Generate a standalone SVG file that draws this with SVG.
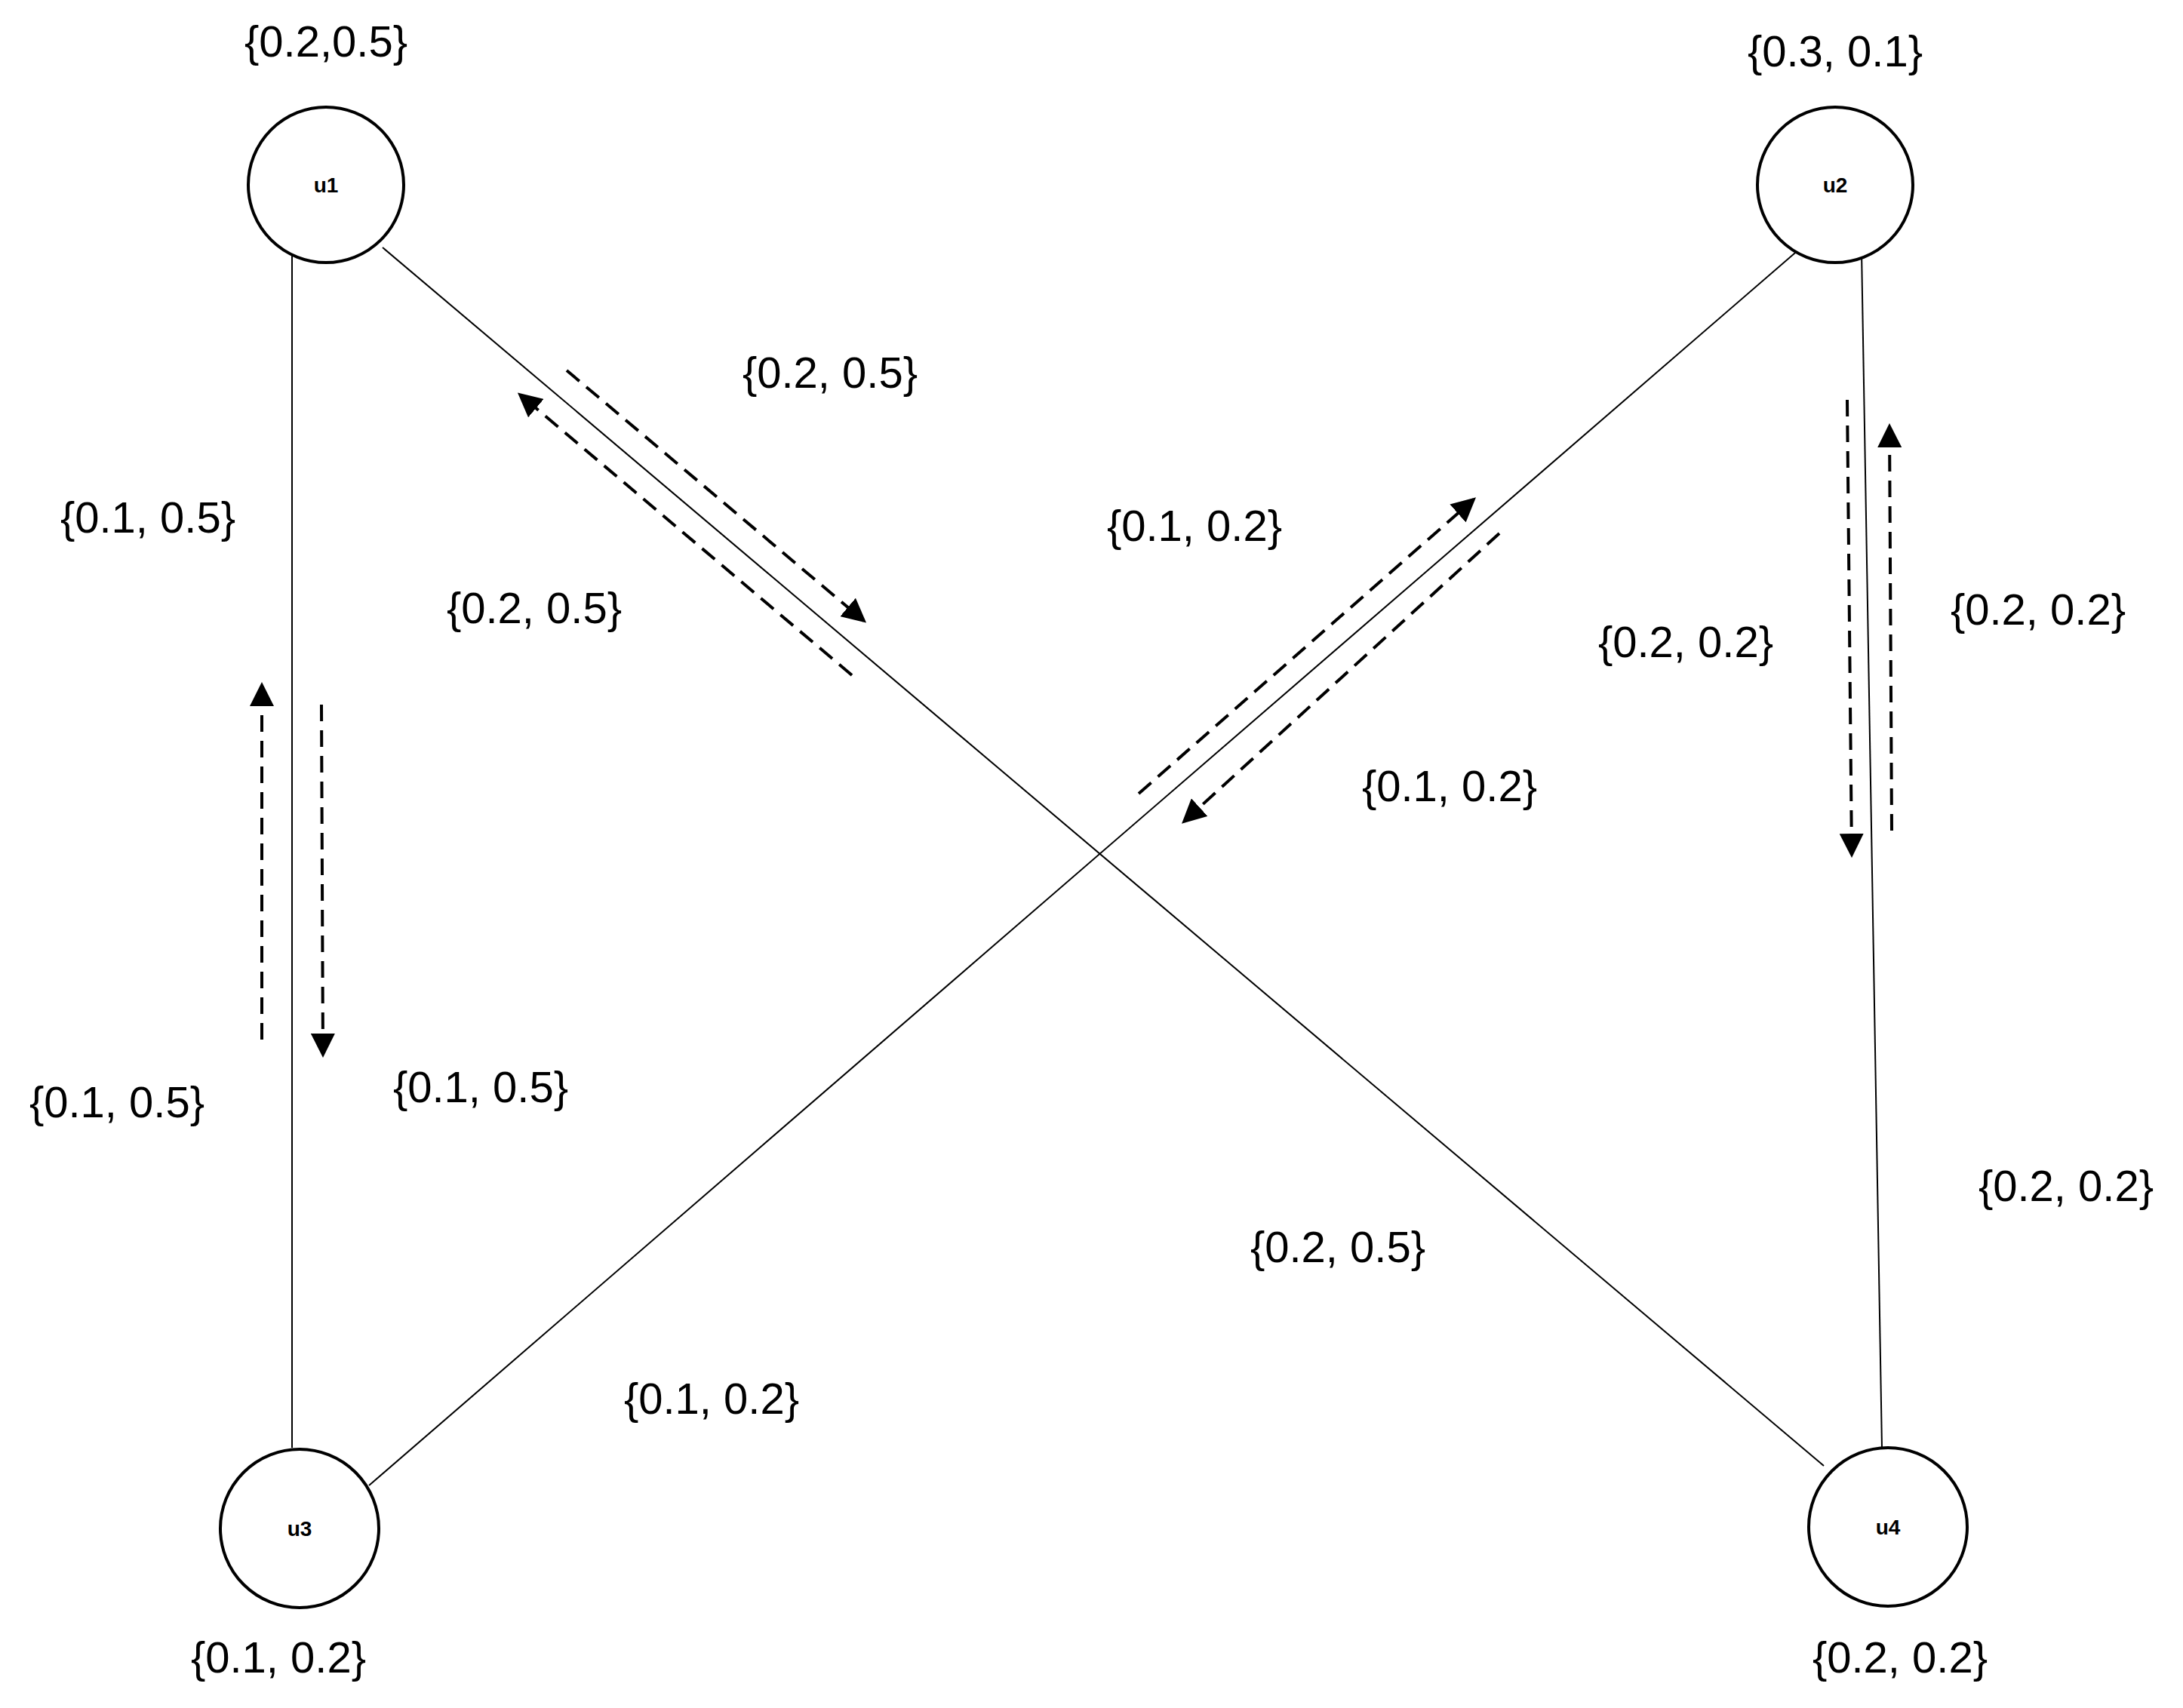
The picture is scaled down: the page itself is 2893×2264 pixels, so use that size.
<svg xmlns="http://www.w3.org/2000/svg" width="2893" height="2264" viewBox="0 0 2893 2264">
<style>
.n{fill:#fff;stroke:#000;stroke-width:4}
.nl{font-family:"Liberation Sans",sans-serif;font-size:28px;font-weight:bold;text-anchor:middle}
.l{font-family:"Liberation Sans",sans-serif;font-size:58px;text-anchor:middle}
.e{stroke:#000;stroke-width:2;fill:none}
.d{stroke:#000;stroke-width:4;stroke-dasharray:22 12;fill:none;marker-end:url(#a)}
</style>
<defs><marker id="a" markerWidth="8" markerHeight="8" refX="7" refY="4" orient="auto" markerUnits="strokeWidth"><path d="M0,0 L8,4 L0,8 Z"/></marker></defs>
<rect width="2893" height="2264" fill="#fff"/>
<g id="connectors">
<line class="e" x1="387" y1="301" x2="387" y2="1919"/>
<line class="e" x1="507" y1="328" x2="2417" y2="1943"/>
<line class="e" x1="2393" y1="323" x2="489" y2="1969"/>
<line class="e" x1="2467" y1="332" x2="2494" y2="1919"/>
<line class="d" x1="751" y1="491" x2="1145" y2="823"/>
<line class="d" x1="1129" y1="895" x2="689" y2="523"/>
<line class="d" x1="1509" y1="1052" x2="1953" y2="662"/>
<line class="d" x1="1987" y1="707" x2="1569" y2="1089"/>
<line class="d" x1="2448" y1="530" x2="2454" y2="1133"/>
<line class="d" x1="2507" y1="1101" x2="2504" y2="565"/>
<line class="d" x1="347" y1="1378" x2="347" y2="908"/>
<line class="d" x1="426" y1="934" x2="428" y2="1398"/>
</g>
<g id="u1"><circle class="n" cx="432" cy="245" r="103"/><text class="nl" x="432" y="255">u1</text></g>
<g id="u2"><circle class="n" cx="2432" cy="245" r="103"/><text class="nl" x="2432" y="255">u2</text></g>
<g id="u3"><circle class="n" cx="397" cy="2026" r="105"/><text class="nl" x="397" y="2036">u3</text></g>
<g id="u4"><circle class="n" cx="2502" cy="2024" r="105"/><text class="nl" x="2502" y="2034">u4</text></g>
<g id="labels">
<text class="l" x="432" y="75">{0.2,0.5}</text>
<text class="l" x="2432" y="88">{0.3, 0.1}</text>
<text class="l" x="1100" y="514">{0.2, 0.5}</text>
<text class="l" x="196" y="706">{0.1, 0.5}</text>
<text class="l" x="1583" y="717">{0.1, 0.2}</text>
<text class="l" x="708" y="826">{0.2, 0.5}</text>
<text class="l" x="2234" y="871">{0.2, 0.2}</text>
<text class="l" x="2701" y="828">{0.2, 0.2}</text>
<text class="l" x="1921" y="1062">{0.1, 0.2}</text>
<text class="l" x="155" y="1481">{0.1, 0.5}</text>
<text class="l" x="637" y="1461">{0.1, 0.5}</text>
<text class="l" x="2738" y="1592">{0.2, 0.2}</text>
<text class="l" x="1773" y="1673">{0.2, 0.5}</text>
<text class="l" x="943" y="1874">{0.1, 0.2}</text>
<text class="l" x="369" y="2217">{0.1, 0.2}</text>
<text class="l" x="2518" y="2217">{0.2, 0.2}</text>
</g>
</svg>
